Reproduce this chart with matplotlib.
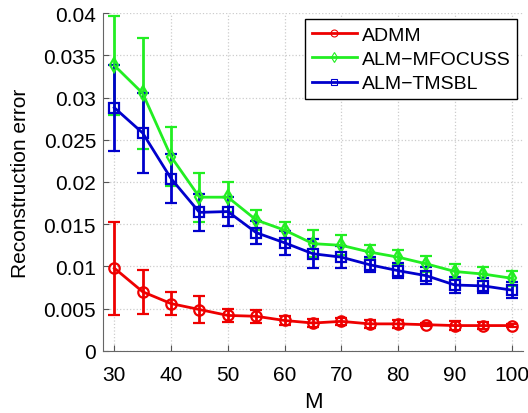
import matplotlib
matplotlib.use("Agg")
import matplotlib.pyplot as plt
from matplotlib.lines import Line2D
from matplotlib.ticker import FuncFormatter

M = [30, 35, 40, 45, 50, 55, 60, 65, 70, 75, 80, 85, 90, 95, 100]

admm = [0.0098, 0.0070, 0.0056, 0.0049, 0.0042, 0.0041, 0.0036, 0.0033,
        0.0035, 0.0032, 0.0032, 0.0031, 0.0030, 0.0030, 0.0030]
admm_err = [0.0055, 0.0026, 0.0014, 0.0016, 0.0008, 0.0008, 0.0005, 0.0005,
            0.0004, 0.0005, 0.0005, 0.0002, 0.0005, 0.0004, 0.0002]

mfocuss = [0.0338, 0.0305, 0.0230, 0.0182, 0.0182, 0.0155, 0.0143, 0.0127,
           0.0125, 0.0117, 0.0111, 0.0103, 0.0094, 0.0091, 0.0086]
mfocuss_err = [0.0059, 0.0066, 0.0035, 0.0029, 0.0018, 0.0012, 0.0010, 0.0016,
               0.0012, 0.0008, 0.0008, 0.0009, 0.0009, 0.0008, 0.0009]

tmsbl = [0.0288, 0.0258, 0.0204, 0.0164, 0.0165, 0.0140, 0.0128, 0.0115,
         0.0111, 0.0102, 0.0095, 0.0089, 0.0078, 0.0077, 0.0072]
tmsbl_err = [0.0051, 0.0047, 0.0029, 0.0022, 0.0017, 0.0014, 0.0014, 0.0017,
             0.0013, 0.0009, 0.0009, 0.0010, 0.0010, 0.0009, 0.0009]

labels = ["ADMM", "ALM\u2212MFOCUSS", "ALM\u2212TMSBL"]

plt.rcParams["font.family"] = ["Liberation Sans", "DejaVu Sans"]

fig = plt.figure(figsize=(5.28, 4.14), dpi=100)
ax = fig.add_axes([0.195, 0.15, 0.7955, 0.816])

series = [
    (admm, admm_err, "#ee0000", "o"),
    (mfocuss, mfocuss_err, "#22ee22", "d"),
    (tmsbl, tmsbl_err, "#0000cc", "s"),
]
handles = []
for (y, e, c, m), label in zip(series, labels):
    ax.errorbar(M, y, yerr=e, color=c, marker=m, markersize=7.5,
                markerfacecolor="none", markeredgewidth=1.6, linewidth=2,
                elinewidth=2, capsize=4, capthick=2)
    handles.append(Line2D([], [], color=c, marker=m, markersize=5,
                          markerfacecolor="none", markeredgewidth=0.8,
                          linewidth=2, label=label))

ax.set_xlim(28, 102)
ax.set_ylim(0, 0.04)
ax.set_xticks(range(30, 101, 10))
ax.set_yticks([i * 0.005 for i in range(9)])
ax.yaxis.set_major_formatter(FuncFormatter(lambda v, p: f"{v:g}"))
ax.tick_params(direction="in", labelsize=15, length=4, color="#555555")
ax.tick_params(axis="x", pad=10)
ax.tick_params(axis="y", pad=5)
ax.grid(True, linestyle=":", color="#cccccc", linewidth=0.9)
for s in ["top", "right"]:
    ax.spines[s].set_visible(False)
for s in ["left", "bottom"]:
    ax.spines[s].set_color("#666666")
ax.set_xlabel("M", fontsize=16, labelpad=5)
ax.set_ylabel("Reconstruction error", fontsize=15, labelpad=10)

leg = ax.legend(handles=handles, loc="upper right",
                bbox_to_anchor=(0.986, 0.982), fontsize=14,
                fancybox=False, framealpha=1, edgecolor="black",
                handlelength=2.3, borderpad=0.35, labelspacing=0.35,
                handletextpad=0.25, borderaxespad=0)
leg.get_frame().set_linewidth(1)

fig.savefig("out.png", dpi=100)
plt.close(fig)
